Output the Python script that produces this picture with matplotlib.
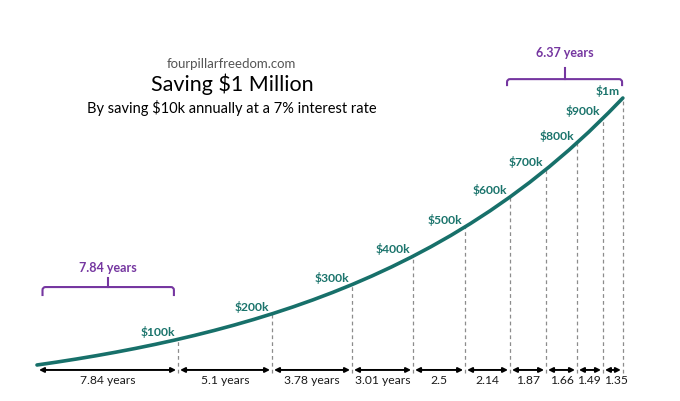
import matplotlib
matplotlib.use("Agg")
import matplotlib.pyplot as plt
from matplotlib.path import Path
from matplotlib.patches import PathPatch

plt.rcParams['font.family'] = ['Lato', 'DejaVu Sans']

# --- data ---
# yearly balance ($k) saving $10k/year at 7%
curve_years = [1, 2, 3, 4, 5, 6, 7, 8, 9, 10, 11, 12, 13, 14, 15, 16, 17, 18, 19, 20,
               21, 22, 23, 24, 25, 26, 27, 28, 29, 30, 30.74]
curve_values_k = [10.0, 20.7, 32.15, 44.40, 57.51, 71.53, 86.54, 102.60, 119.78, 138.16,
                  157.84, 178.88, 201.41, 225.50, 251.29, 278.88, 308.40, 339.99, 373.79, 409.96,
                  448.65, 490.06, 534.36, 581.77, 632.49, 686.77, 744.84, 806.98, 873.47, 944.61,
                  1000.0]
# where the dashed guide lines are drawn in the picture (year, and height where they meet the curve)
marker_years = [8.16, 12.93, 16.99, 20.09, 22.73, 25.01, 26.84, 28.41, 29.73, 30.74]
marker_values_k = [105.3, 199.8, 308.1, 413.4, 522.4, 633.0, 735.5, 834.2, 925.4, 1000.0]
milestone_labels = ["$100k", "$200k", "$300k", "$400k", "$500k", "$600k", "$700k",
                    "$800k", "$900k", "$1m"]
interval_labels = ["7.84 years", "5.1 years", "3.78 years", "3.01 years", "2.5", "2.14",
                   "1.87", "1.66", "1.49", "1.35"]
start_year = 1
first_span = (1.28, 7.95)
last_span = (24.86, 30.70)
first_span_label = "7.84 years"
last_span_label = "6.37 years"

TEAL = "#17706a"
TEAL_TXT = "#1b746c"
PURPLE = "#7536a0"

W, H = 680, 401
fig = plt.figure(figsize=(W / 100, H / 100), dpi=100)
ax = fig.add_axes([0, 0, 1, 1])
ax.set_xlim(-0.878, 33.64)
ax.set_ylim(-123.5, 1363.4)
ax.axis('off')

PX_X = 1 / 19.70   # years per pixel
PX_Y = 1 / 0.2697  # $k per pixel

# curve
ax.plot(curve_years, curve_values_k, color=TEAL, lw=2.6, solid_capstyle='round', zorder=3)

arrow_y = -8.4
dash_bottom = -20
label_y = -49

# dashed lines + milestone labels
for x, v, lab in zip(marker_years, marker_values_k, milestone_labels):
    ax.plot([x, x], [dash_bottom, v], color='#8c8c8c', lw=0.9, ls=(0, (3, 2.5)), zorder=2)
    ax.annotate(lab, xy=(x, v), xytext=(-2.2, 5.0), textcoords='offset points',
                ha='right', va='center', color=TEAL_TXT, fontsize=8.7, fontweight='bold')

# bottom double arrows
bounds = [start_year] + marker_years
gap = 2 * PX_X
n = len(interval_labels)
for i, lab in enumerate(interval_labels):
    x0, x1 = bounds[i], bounds[i + 1]
    ax.annotate('', xy=(x1 - gap, arrow_y), xytext=(x0 + gap, arrow_y),
                arrowprops=dict(arrowstyle='<|-|>', color='black', lw=1.4,
                                mutation_scale=7, shrinkA=0, shrinkB=0))
    nudge = 0
    if i == n - 1:
        nudge = 3 * PX_X
    elif i == n - 2:
        nudge = -1.5 * PX_X
    ax.text((x0 + x1) / 2 + nudge, label_y, lab, ha='center', va='center', fontsize=8.7,
            color='#1a1a1a')

# brackets with rounded corners
def bracket(x0, x1, y_h, tick_px, stem_px, label, label_px_above):
    r = 3
    rx, ry = r * PX_X, r * PX_Y
    y_t = y_h - tick_px * PX_Y
    verts = [(x0, y_t), (x0, y_h - ry), (x0, y_h), (x0 + rx, y_h),
             (x1 - rx, y_h), (x1, y_h), (x1, y_h - ry), (x1, y_t)]
    codes = [Path.MOVETO, Path.LINETO, Path.CURVE3, Path.CURVE3,
             Path.LINETO, Path.CURVE3, Path.CURVE3, Path.LINETO]
    ax.add_patch(PathPatch(Path(verts, codes), fill=False, edgecolor=PURPLE, lw=1.5,
                           capstyle='butt', joinstyle='round'))
    xm = (x0 + x1) / 2
    ax.plot([xm, xm], [y_h, y_h + stem_px * PX_Y], color=PURPLE, lw=1.5)
    ax.text(xm, y_h + label_px_above * PX_Y, label, ha='center', va='center', color=PURPLE,
            fontsize=9, fontweight='bold')

bracket(first_span[0], first_span[1], 299, 9, 9, first_span_label, 19)
bracket(last_span[0], last_span[1], 1070, 7, 11, last_span_label, 26)

# titles
def ftext(px, py, s, **kw):
    fig.text(px / W, 1 - py / H, s, ha='center', va='center', **kw)

ftext(231, 64, "fourpillarfreedom.com", fontsize=9.5, color='#555555')
ftext(232, 84, "Saving $1 Million", fontsize=15.5, color='black')
ftext(232, 108, "By saving $10k annually at a 7% interest rate", fontsize=10.5, color='black')

fig.savefig("out.png", dpi=100, facecolor='white')
